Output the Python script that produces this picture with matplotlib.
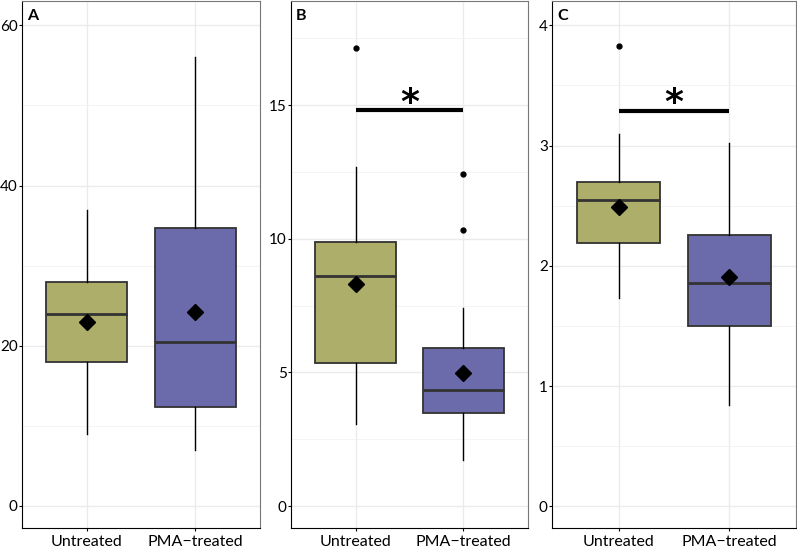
import numpy as np
import matplotlib
matplotlib.use("Agg")
import matplotlib.pyplot as plt

groups = ["Untreated", "PMA\u2212treated"]
fills = ["#ADAE6A", "#6B6AAB"]

# panel A
a_low = [9.0, 7.0]
a_q1 = [18.0, 12.3]
a_med = [24.0, 20.5]
a_q3 = [28.0, 34.7]
a_high = [37.0, 56.0]
a_mean = [23.0, 24.2]
a_out = [[], []]

# panel B
b_low = [3.06, 1.72]
b_q1 = [5.37, 3.47]
b_med = [8.62, 4.36]
b_q3 = [9.89, 5.93]
b_high = [12.69, 7.39]
b_mean = [8.32, 4.96]
b_out = [[17.13], [12.43, 10.34]]

# panel C
c_low = [1.73, 0.84]
c_q1 = [2.19, 1.50]
c_med = [2.55, 1.86]
c_q3 = [2.70, 2.26]
c_high = [3.10, 3.02]
c_mean = [2.49, 1.91]
c_out = [[3.83], []]

plt.rcParams['font.family'] = ['Lato', 'DejaVu Sans']

fig = plt.figure(figsize=(7.97, 5.51), dpi=100)

def panel(rect, label, low, q1, med, q3, high, mean, out, ylim, major, minor, sig=None):
    ax = fig.add_axes(rect)
    stats = []
    for i in range(2):
        stats.append(dict(whislo=low[i], q1=q1[i], med=med[i], q3=q3[i],
                          whishi=high[i], fliers=out[i], label=groups[i]))
    ax.set_axisbelow(True)
    bp = ax.bxp(stats, positions=[1, 2], widths=0.75, patch_artist=True,
                showcaps=False, showfliers=True,
                boxprops=dict(edgecolor="#333333", linewidth=1.3),
                medianprops=dict(color="#333333", linewidth=2),
                whiskerprops=dict(color="black", linewidth=1),
                flierprops=dict(marker="o", markersize=3.5, markerfacecolor="black",
                                markeredgecolor="black"))
    for patch, c in zip(bp["boxes"], fills):
        patch.set_facecolor(c)
    ax.plot([1, 2], mean, linestyle="none", marker="D", markersize=8.5, color="black", zorder=5)
    if sig is not None:
        ax.plot([1, 2], [sig, sig], color="black", linewidth=3, solid_capstyle="butt")
        ax.annotate("*", (1.5, sig), xytext=(0, -7), textcoords="offset points",
                    ha="center", va="bottom", fontsize=26, fontweight="bold",
                    family="DejaVu Sans")
    ax.set_xlim(0.4, 2.6)
    ax.set_ylim(*ylim)
    ax.set_yticks(major)
    ax.set_yticks(minor, minor=True)
    ax.grid(True, which="major", color="#EBEBEB", linewidth=1)
    ax.grid(True, which="minor", color="#F2F2F2", linewidth=0.6)
    ax.tick_params(axis="y", which="minor", length=0)
    ax.tick_params(axis="y", which="major", labelsize=11, length=2, pad=1,
                   colors="black")
    ax.tick_params(axis="x", which="major", labelsize=11.5, length=2.5, pad=2.5,
                   colors="black")
    ax.set_xticks([1, 2])
    ax.set_xticklabels(groups)
    for s in ["top", "right"]:
        ax.spines[s].set_color("#777777")
    for s in ["left", "bottom"]:
        ax.spines[s].set_color("black")
    ax.text(0.02, 0.985, label, transform=ax.transAxes, ha="left", va="top",
            fontsize=11.5, fontweight="bold")
    return ax

bottom = 0.0417
height = 0.956
panel([0.0276, bottom, 0.2986, height], "A", a_low, a_q1, a_med, a_q3, a_high, a_mean, a_out,
      (-2.75, 63), [0, 20, 40, 60], [10, 30, 50])
panel([0.3651, bottom, 0.2974, height], "B", b_low, b_q1, b_med, b_q3, b_high, b_mean, b_out,
      (-0.82, 18.88), [0, 5, 10, 15], [2.5, 7.5, 12.5, 17.5], sig=14.81)
panel([0.6926, bottom, 0.306, height], "C", c_low, c_q1, c_med, c_q3, c_high, c_mean, c_out,
      (-0.18, 4.2), [0, 1, 2, 3, 4], [0.5, 1.5, 2.5, 3.5], sig=3.29)

fig.savefig("out.png", dpi=100)
